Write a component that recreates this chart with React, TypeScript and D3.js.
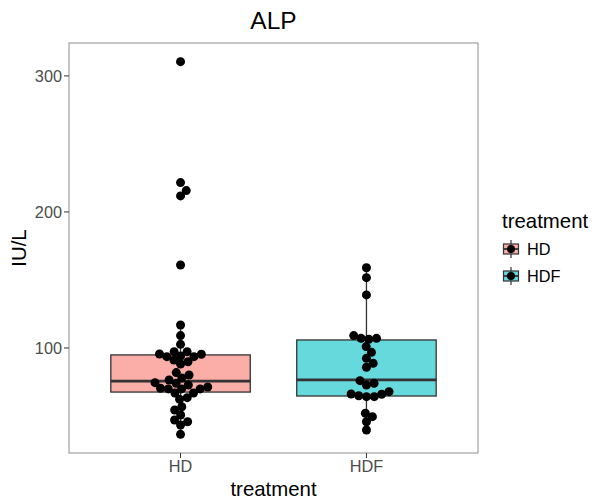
import React from "react";
import * as d3 from "d3";

// Treatment groups and ALP measurements (IU/L)
const groups = ["HD", "HDF"];
const hdValues = [
  310.5, 221.6, 215.7, 211.8, 161.0,
  116.9, 109.1, 102.7, 97.3, 97.3, 95.6, 95.4, 94.1, 93.6, 93.6, 91.2, 89.9, 88.2,
  81.9, 80.1, 77.9, 76.5, 74.5, 74.0, 72.8, 71.3, 70.4, 69.9, 69.9, 69.9, 66.9, 66.9,
  63.5, 62.3, 56.8, 54.4, 50.7, 47.1, 45.8, 43.4, 36.5,
];
const hdfValues = [
  159.0, 151.7, 139.0, 109.1, 107.1, 106.4, 107.1, 101.0, 96.8, 92.4, 88.7, 85.8,
  76.0, 72.8, 74.0, 66.2, 64.9, 64.2, 64.2, 66.0, 67.9, 52.0, 49.5, 45.8, 39.7,
];

// Box summary per group
const boxLower = [67.6, 64.7];
const boxMiddle = [75.7, 76.5];
const boxUpper = [94.9, 105.9];
const whiskerLow = [36.5, 39.7];
const whiskerHigh = [116.9, 159.0];

const groupColors = ["#F8766D", "#00BFC4"];
const yTicks = [100, 200, 300];

const W = 595;
const H = 499;
const panel = { left: 69, right: 478, top: 43, bottom: 453 };
const FONT = "'Liberation Sans', Arial, Helvetica, sans-serif";

const DOT_R = 4.5;
const DOT_GAP = 7.8;

// Beeswarm placement: each point goes to the offset nearest the centre that avoids overlap
function swarmOffsets(ys: number[], gap: number): number[] {
  const order = d3.range(ys.length).sort((a, b) => ys[b] - ys[a]);
  const xs = new Array(ys.length).fill(0);
  const placed: number[] = [];
  for (const i of order) {
    const cands = [0];
    for (const j of placed) {
      const dy = ys[i] - ys[j];
      if (Math.abs(dy) < gap) {
        const dx = Math.sqrt(gap * gap - dy * dy);
        cands.push(xs[j] + dx, xs[j] - dx);
      }
    }
    cands.sort((a, b) => Math.abs(a) - Math.abs(b));
    const pick = cands.find((c) =>
      placed.every((j) => (c - xs[j]) ** 2 + (ys[i] - ys[j]) ** 2 >= gap * gap - 1e-6)
    );
    xs[i] = pick ?? 0;
    placed.push(i);
  }
  return xs;
}

export default function App() {
  const series = [hdValues, hdfValues];
  const all = series.flat();
  const [mn, mx] = d3.extent(all) as [number, number];
  const pad = (mx - mn) * 0.05;

  const y = d3.scaleLinear().domain([mn - pad, mx + pad]).range([panel.bottom, panel.top]);
  const x = d3
    .scalePoint<string>()
    .domain(groups)
    .range([panel.left, panel.right])
    .padding(0.6);
  const step = x.step();
  const boxW = step * 0.75;

  const legendRows = [249, 276];

  return (
    <svg width={W} height={H} style={{ display: "block", position: "absolute", left: 0, top: 0 }}>
      <rect width={W} height={H} fill="#fff" />
      <text x={(panel.left + panel.right) / 2} y={29} textAnchor="middle" fontFamily={FONT} fontSize={24.5} fill="#000">
        ALP
      </text>

      {/* boxes */}
      {groups.map((g, i) => {
        const cx = x(g)!;
        return (
          <g key={g}>
            <line x1={cx} x2={cx} y1={y(whiskerHigh[i])} y2={y(boxUpper[i])} stroke="#333" strokeWidth={1.3} />
            <line x1={cx} x2={cx} y1={y(boxLower[i])} y2={y(whiskerLow[i])} stroke="#333" strokeWidth={1.3} />
            <rect
              x={cx - boxW / 2}
              y={y(boxUpper[i])}
              width={boxW}
              height={y(boxLower[i]) - y(boxUpper[i])}
              fill={groupColors[i]}
              fillOpacity={0.6}
              stroke="#333"
              strokeWidth={1.3}
            />
            <line
              x1={cx - boxW / 2}
              x2={cx + boxW / 2}
              y1={y(boxMiddle[i])}
              y2={y(boxMiddle[i])}
              stroke="#333"
              strokeWidth={2.8}
            />
          </g>
        );
      })}

      {/* points */}
      {groups.map((g, i) => {
        const cx = x(g)!;
        const ys = series[i].map((v) => y(v));
        const offs = swarmOffsets(ys, DOT_GAP);
        return (
          <g key={g + "-pts"}>
            {ys.map((py, k) => (
              <circle key={k} cx={cx + offs[k]} cy={py} r={DOT_R} fill="#000" />
            ))}
          </g>
        );
      })}

      {/* panel border */}
      <rect
        x={panel.left}
        y={panel.top}
        width={panel.right - panel.left}
        height={panel.bottom - panel.top}
        fill="none"
        stroke="#999"
        strokeWidth={1.1}
      />

      {/* y axis */}
      {yTicks.map((t) => (
        <g key={t}>
          <line x1={panel.left - 5} x2={panel.left} y1={y(t)} y2={y(t)} stroke="#333" strokeWidth={1} />
          <text x={panel.left - 7} y={y(t) + 5.8} textAnchor="end" fontFamily={FONT} fontSize={16.3} fill="#4D4D4D">
            {t}
          </text>
        </g>
      ))}
      <text
        transform={`translate(26,${(panel.top + panel.bottom) / 2}) rotate(-90)`}
        textAnchor="middle"
        fontFamily={FONT}
        fontSize={20.4}
        fill="#000"
      >
        IU/L
      </text>

      {/* x axis */}
      {groups.map((g) => (
        <g key={g + "-tick"}>
          <line x1={x(g)!} x2={x(g)!} y1={panel.bottom} y2={panel.bottom + 5} stroke="#333" strokeWidth={1} />
          <text x={x(g)!} y={panel.bottom + 19} textAnchor="middle" fontFamily={FONT} fontSize={16.3} fill="#4D4D4D">
            {g}
          </text>
        </g>
      ))}
      <text x={(panel.left + panel.right) / 2} y={496} textAnchor="middle" fontFamily={FONT} fontSize={20.4} fill="#000">
        treatment
      </text>

      {/* legend */}
      <text x={502} y={228} fontFamily={FONT} fontSize={20.4} fill="#000">
        treatment
      </text>
      {groups.map((g, i) => {
        const cy = legendRows[i];
        const kx = 511;
        const kw = 15;
        const kh = 10;
        return (
          <g key={g + "-key"}>
            <line x1={kx} x2={kx} y1={cy - 9} y2={cy + 9} stroke="#333" strokeWidth={1.2} />
            <rect x={kx - kw / 2} y={cy - kh / 2} width={kw} height={kh} fill={groupColors[i]} fillOpacity={0.6} stroke="#333" strokeWidth={1.2} />
            <line x1={kx - kw / 2} x2={kx + kw / 2} y1={cy} y2={cy} stroke="#333" strokeWidth={1.8} />
            <circle cx={kx} cy={cy} r={4} fill="#000" />
            <text x={527} y={cy + 5.8} fontFamily={FONT} fontSize={16.3} fill="#000">
              {g}
            </text>
          </g>
        );
      })}
    </svg>
  );
}
